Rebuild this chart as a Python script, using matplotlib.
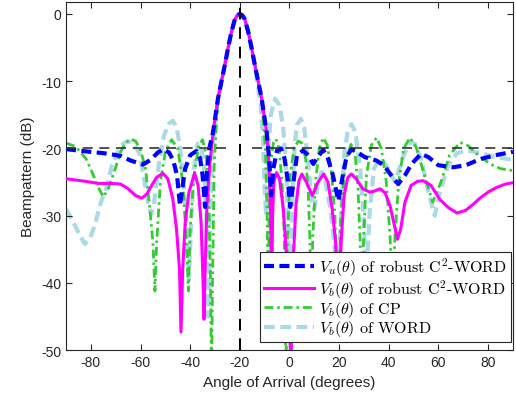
import numpy as np
import matplotlib
matplotlib.use("Agg")
import matplotlib.pyplot as plt
from matplotlib.font_manager import FontProperties

plt.rcParams["font.family"] = ["Liberation Sans", "DejaVu Sans"]
plt.rcParams["mathtext.fontset"] = "cm"
plt.rcParams["axes.unicode_minus"] = False

# ── beampattern curves (angle in degrees, level in dB) ──
# Vu(theta), robust C2-WORD
ang_vu = [-90, -83, -75, -68, -64, -59, -56, -53, -50.8, -48.5, -46.8, -45.3, -44.1, -43, -42,
          -40, -37.5, -36, -35, -34, -33.3, -32.3, -30.8, -28.8, -26, -24.7, -23.4, -22, -21,
          -20, -19, -18, -16.6, -15.3, -14, -11.2, -9.2, -8.3, -7.4, -6.5, -5, -3.4, -2, -0.6,
          0.3, 1.6, 3, 5.5, 7.5, 9.6, 11.5, 13.6, 15.5, 17.5, 19.7, 21.5, 23, 25, 27.5, 30.4,
          35, 38, 41, 43.8, 46.5, 49.2, 53, 56, 60, 66, 71, 76.7, 83, 90]
db_vu = [-20.1, -20.4, -20.7, -21.1, -21.8, -22.4, -21.7, -20.6, -20.1, -20.6, -21.8, -24, -28.5,
         -25.5, -23, -21, -20.4, -21.5, -24, -28.7, -24, -20, -17.6, -12.6, -7.5, -5, -2.7, -0.8,
         -0.2, 0, -0.2, -0.8, -2.7, -5, -7.5, -12.6, -17.6, -21, -27, -23, -20.3, -20, -21.5,
         -25, -28.7, -25, -21, -20.3, -21, -22.3, -21.2, -20.2, -21.5, -24, -27.8, -24, -21.2,
         -20.1, -20.6, -21.3, -21.8, -22.5, -24, -25.3, -24, -22.3, -20.8, -21.3, -22.5, -22.8,
         -22.5, -21.6, -21.0, -20.5]

# Vb(theta), robust C2-WORD
ang_vb = [-90, -86, -82, -77, -72, -68, -65, -62, -59.5, -57.5, -55.5, -53.5, -51, -49, -47,
          -45.5, -44.3, -43.7, -43, -42, -40.5, -38.2, -36.8, -35.6, -34.8, -34.4, -34, -33.2,
          -32, -30.8, -28.8, -26, -24.7, -23.4, -22, -21, -20, -19, -18, -16.6, -15.3, -14,
          -11.2, -9.2, -8.3, -7.6, -7.2, -6.8, -6.3, -5.2, -4, -2.5, -1, 0.6, 1.6, 2.6, 3.8, 5,
          6.8, 9.2, 11.5, 13.8, 15.5, 17.2, 18.6, 19.7, 20.8, 22, 23.5, 25, 27, 29.5, 32.4,
          34.5, 36.5, 38.5, 40.5, 42.3, 43.5, 44.8, 46.5, 49, 51.5, 53.9, 57, 60.6, 64, 67.5,
          71, 74, 76.7, 80, 83.4, 87, 90]
db_vb = [-24.5, -24.7, -24.9, -25.2, -25.2, -25.3, -26.0, -27.0, -27.4, -26.8, -25.5, -24.3,
         -23.7, -24.5, -27.5, -32, -38, -47.3, -38, -31, -26.5, -23.7, -25.5, -31, -40, -45.4,
         -38, -28, -22, -17.6, -12.6, -7.5, -5, -2.7, -0.8, -0.2, 0, -0.2, -0.8, -2.7, -5, -7.5,
         -12.6, -17.6, -22, -30, -42, -30, -25, -23.6, -24.5, -29, -37, -52, -36, -28.5, -24.8,
         -23.8, -25, -27, -25, -23.8, -25, -29, -34, -45, -34, -27, -24.3, -23.8, -24.6, -26,
         -26.5, -26.3, -26, -26.6, -28.5, -31.5, -33.5, -32, -28, -25.5, -24.9, -24.8, -25.5,
         -27.6, -28.8, -29.6, -29.2, -28.3, -27.4, -26.5, -25.8, -25.3, -25.1]

# Vb(theta), CP
ang_cp = [-90, -87, -85, -82, -80, -77, -75, -73, -70.7, -68, -66, -64, -62, -60, -58, -56.5,
          -55, -54.2, -53.5, -52, -50, -47.5, -45, -43, -41.8, -40.7, -40, -38.5, -36.5, -35,
          -33.5, -32.5, -31.8, -31.4, -31, -30.3, -28.8, -26, -24.7, -23.4, -22, -21, -20, -19,
          -18, -16.6, -15.3, -14, -11.2, -9.7, -9.0, -8.6, -8.2, -7.5, -6.5, -5.4, -4.2, -3,
          -2.1, -1.4, -0.8, 0.3, 1.8, 3.6, 5, 6.5, 7.5, 8.2, 8.8, 9.4, 10.5, 12, 13.6, 15.2,
          16.8, 18.3, 19.5, 20.7, 22.5, 24.8, 26.5, 27.6, 28.5, 29.1, 29.8, 31, 33, 35.1, 37,
          39, 40.5, 41.5, 42.5, 44, 46, 48.5, 51, 54, 57.7, 61, 64.5, 68.7, 72, 76, 80.8, 85, 90]
db_cp = [-19.2, -19.6, -20.2, -21.5, -23.1, -25.8, -27.2, -26, -23.6, -20.5, -19.2, -18.6,
         -18.9, -20.2, -23, -28, -34, -41.2, -34, -25, -20.5, -18.7, -20, -25, -32, -41.2, -32,
         -24, -19.5, -18.7, -21, -28, -40, -55, -40, -22, -12.6, -7.5, -5, -2.7, -0.8, -0.2, 0,
         -0.2, -0.8, -2.7, -5, -7.5, -12.6, -20, -30, -42, -30, -22, -19.2, -18.6, -20, -25,
         -33, -55, -33, -24, -20, -18.9, -19.2, -21.5, -26, -33, -45, -33, -25, -20, -18.4,
         -19.5, -23, -30, -45, -30, -22, -19.4, -21, -26, -34, -45, -34, -24, -19.5, -18.4, -20,
         -25, -33, -42, -33, -25, -20, -18.4, -19.8, -23.5, -28, -25, -21, -19.1, -19.6, -21,
         -22.3, -23, -23.3]

# Vb(theta), WORD
ang_wd = [-90, -87, -85, -82.5, -80.5, -78.5, -76, -73.4, -71.5, -69.3, -67, -65, -63, -60.6,
          -58.8, -57, -55.7, -54.5, -52.5, -50.5, -48.5, -47, -45.5, -44, -42.5, -41.2, -40.5,
          -39.7, -38.5, -37, -35.8, -34.5, -33.5, -32.7, -32, -31, -28.8, -26, -24.7, -23.4,
          -22, -21, -20, -19, -18, -16.6, -15.3, -14, -11.6, -10.6, -10, -9.4, -8.5, -7.5,
          -5.8, -4, -2.5, -1.2, -0.3, 0.4, 1, 2, 3, 4.6, 6, 7.5, 9, 10, 11.5, 13, 14.5, 16.5, 18,
          19.2, 20.5, 22, 23.5, 25, 26.5, 28.5, 30, 31, 32.2, 34, 36.5, 39, 42.5, 45.5, 48.5,
          50.5, 53, 56, 58.5, 61, 64, 67.5, 71.4, 76, 82, 90]
db_wd = [-29, -31, -32.5, -34.2, -33.5, -31.5, -28, -25.5, -22.5, -20.6, -19.3, -18.9, -19.3,
         -20.6, -24, -28, -29.8, -28, -22, -18, -16.3, -15.9, -16.8, -20, -26, -33, -39.5, -32,
         -23, -19.3, -19.5, -22, -30, -45, -30, -20, -12.6, -7.5, -5, -2.7, -0.8, -0.2, 0, -0.2,
         -0.8, -2.7, -5, -7.5, -13.5, -19, -26, -30, -20, -15, -12.6, -13.6, -17, -24, -35, -42,
         -30, -20, -16.5, -15.6, -17, -22, -28, -29, -25, -23.5, -25, -29, -34, -40, -32, -21,
         -17.3, -16.4, -17.5, -23, -31, -40, -30, -23, -21.5, -22.5, -25, -21.5, -19, -19.3,
         -21.5, -26.5, -30, -26, -22.5, -20.7, -20.3, -20.6, -21.2, -21.7]

labels = [r"$V_u(\theta)$ of robust C$^2$-WORD",
          r"$V_b(\theta)$ of robust C$^2$-WORD",
          r"$V_b(\theta)$ of CP",
          r"$V_b(\theta)$ of WORD"]

theta0 = -20      # look direction
level = -20       # sidelobe bound
gap = (-25.5, -15)

fig = plt.figure(figsize=(5.16, 4.06), dpi=100)
ax = fig.add_axes([0.128, 0.135, 0.866, 0.858])

l_wd, = ax.plot(ang_wd, db_wd, color="#add8e6", lw=3.0, zorder=1)
l_wd.set_dashes([2.6, 1.3])
l_cp, = ax.plot(ang_cp, db_cp, color="#33cc33", lw=2.0, zorder=2)
l_cp.set_dashes([3.2, 1.4, 0.9, 1.4])
l_vb, = ax.plot(ang_vb, db_vb, color="#ff00ff", lw=2.2, zorder=3)
l_vu, = ax.plot(ang_vu, db_vu, color="#0000ff", lw=3.0, zorder=4)
l_vu.set_dashes([2.4, 1.3])

# reference lines
ax.plot([-90, gap[0]], [level, level], color="0.2", lw=1.2, ls=(0, (6, 4)), zorder=5)
ax.plot([gap[1], 90], [level, level], color="0.2", lw=1.2, ls=(0, (6, 4)), zorder=5)
ax.axvline(theta0, color="black", lw=1.4, ls=(0, (6, 4)), zorder=5)

ax.set_xlim(-90, 90)
ax.set_ylim(-50, 1.8)
ax.set_xticks(np.arange(-80, 81, 20))
ax.set_yticks(np.arange(-50, 1, 10))
ax.tick_params(direction="in", top=True, right=True, labelsize=10, length=4, width=0.8,
               colors="0.15")
for sp in ax.spines.values():
    sp.set_color("0.15")
    sp.set_linewidth(0.8)
ax.set_xlabel("Angle of Arrival (degrees)", fontsize=11, color="0.15")
ax.set_ylabel("Beampattern (dB)", fontsize=11, color="0.15")

leg = ax.legend([l_vu, l_vb, l_cp, l_wd], labels, loc="lower right",
                prop=FontProperties(family="cmr10", size=11.5), handlelength=3.1,
                handletextpad=0.3, labelspacing=-0.05, borderpad=0.25, borderaxespad=0,
                fancybox=False, framealpha=1, edgecolor="0.15",
                bbox_to_anchor=(0.995, 0.023))
leg.get_frame().set_linewidth(0.8)
leg.set_zorder(10)

fig.savefig("out.png", dpi=100)
